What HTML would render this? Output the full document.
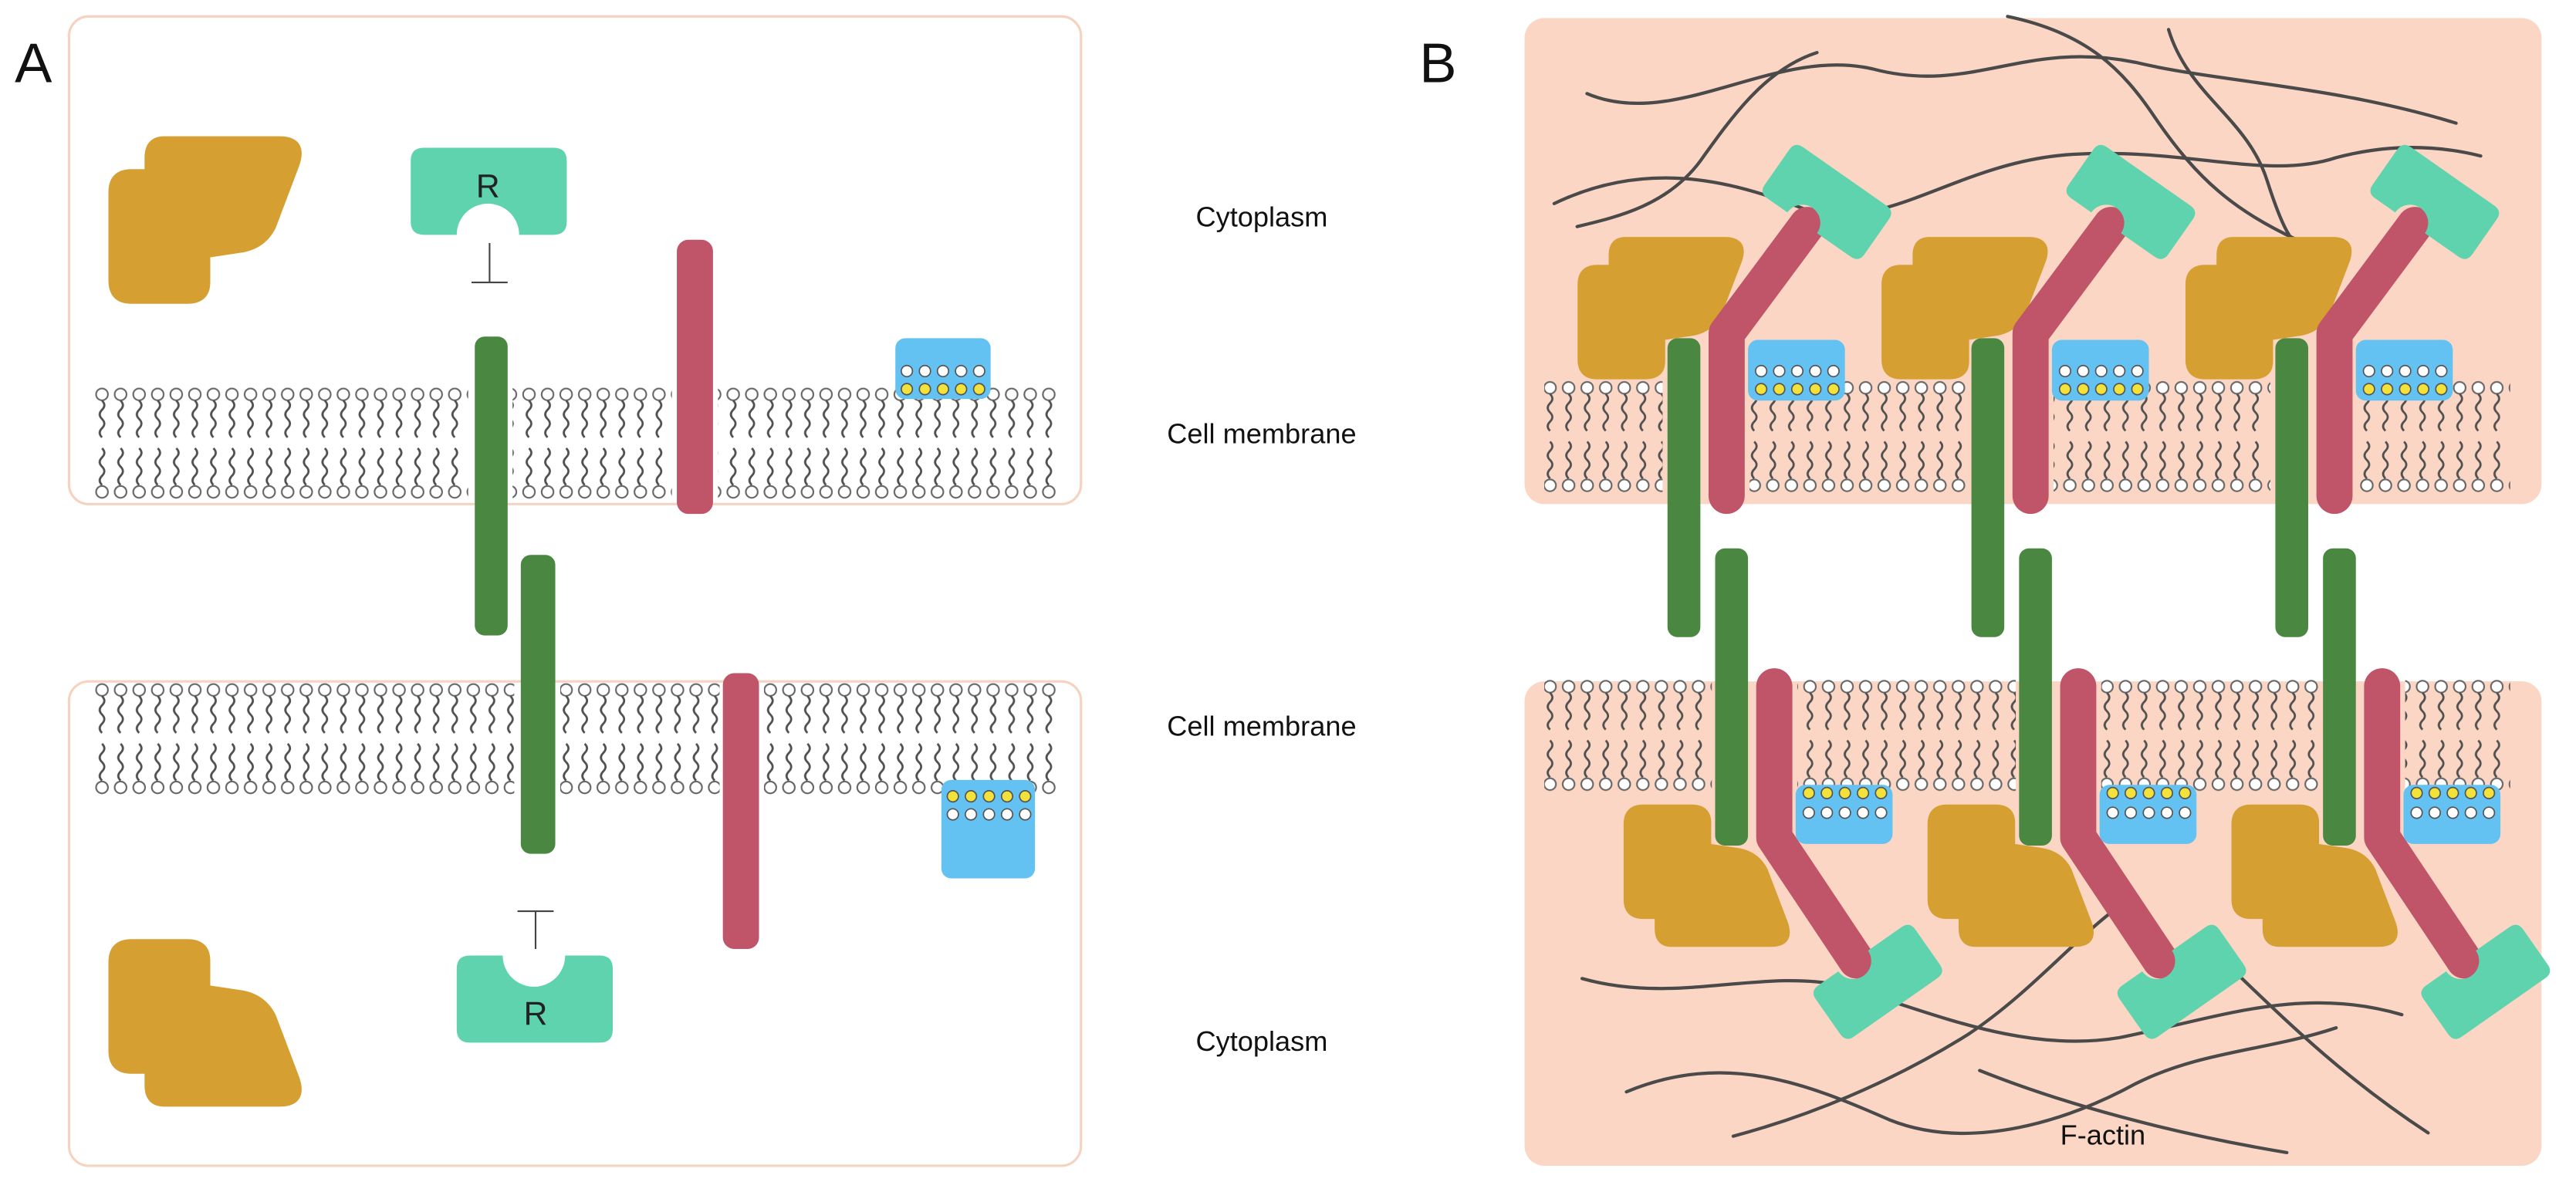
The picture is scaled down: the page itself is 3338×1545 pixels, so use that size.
<!DOCTYPE html>
<html><head><meta charset="utf-8"><style>html,body{margin:0;padding:0;background:#fff}svg{display:block}</style></head>
<body>
<svg width="3338" height="1545" viewBox="0 0 1568 726" preserveAspectRatio="none" xmlns="http://www.w3.org/2000/svg" font-family="Liberation Sans, sans-serif">
<defs>
<path id="tail" d="M0,0 q2.8,2.8 0,5.6 q-2.8,2.8 0,5.6 q2.8,2.8 0,5.6 q-2.8,2.8 0,5.6" fill="none" stroke="#505050" stroke-width="1.3"/>
<pattern id="mem" width="11.3" height="68" patternUnits="userSpaceOnUse">
<circle cx="5.6" cy="4.2" r="3.6" fill="#fff" stroke="#666" stroke-width="1"/>
<circle cx="5.6" cy="63.6" r="3.6" fill="#fff" stroke="#666" stroke-width="1"/>
<use href="#tail" x="5.6" y="8"/>
<use href="#tail" x="5.6" y="37"/>
</pattern>
<g id="row5w"><circle cx="0" r="3.4" fill="#fff" stroke="#555" stroke-width="0.8"/><circle cx="11" r="3.4" fill="#fff" stroke="#555" stroke-width="0.8"/><circle cx="22" r="3.4" fill="#fff" stroke="#555" stroke-width="0.8"/><circle cx="33" r="3.4" fill="#fff" stroke="#555" stroke-width="0.8"/><circle cx="44" r="3.4" fill="#fff" stroke="#555" stroke-width="0.8"/></g>
<g id="row5y"><circle cx="0" r="3.4" fill="#f2e23a" stroke="#555" stroke-width="0.8"/><circle cx="11" r="3.4" fill="#f2e23a" stroke="#555" stroke-width="0.8"/><circle cx="22" r="3.4" fill="#f2e23a" stroke="#555" stroke-width="0.8"/><circle cx="33" r="3.4" fill="#f2e23a" stroke="#555" stroke-width="0.8"/><circle cx="44" r="3.4" fill="#f2e23a" stroke="#555" stroke-width="0.8"/></g>
<path id="gold" d="M100,85 L170,85 Q186,85 180,101 L166,138 Q160,150 146,152 L126,155 L126,172 Q126,183 114,183 L80,183 Q68,183 68,171 L68,117 Q68,105 80,105 L90,105 L90,96 Q90,85 100,85 Z" fill="#d69f31" stroke="#d69f31" stroke-width="4" stroke-linejoin="round"/>
<path id="tealT" d="M-37,-13 Q-37,-19 -31,-19 H31 Q37,-19 37,-13 V13 Q37,19 31,19 H6 A11,11 0 0 0 -16,19 H-31 Q-37,19 -37,13 Z" fill="#5fd3ae"/>
<path id="tealB" d="M-37,13 Q-37,19 -31,19 H31 Q37,19 37,13 V-13 Q37,-19 31,-19 H6 A11,11 0 0 1 -16,-19 H-31 Q-37,-19 -37,-13 Z" fill="#5fd3ae"/>
<g id="unitB">
<use href="#gold" transform="translate(962,146) scale(0.86,0.85) translate(-68,-85)"/>
<polyline points="1051,302 1051,203 1100,137" fill="none" stroke="#c05468" stroke-width="22" stroke-linecap="round" stroke-linejoin="round"/>
<use href="#tealT" transform="translate(1112,123) rotate(35)"/>
<rect x="1015" y="206" width="20" height="182" rx="6" fill="#4a8740"/>
<rect x="1064" y="207" width="59" height="37" rx="6" fill="#64c2f3"/>
<use href="#row5w" transform="translate(1072,226)"/>
<use href="#row5y" transform="translate(1072,237)"/>
<use href="#gold" transform="translate(990,575) scale(0.86,-0.85) translate(-68,-85)"/>
<polyline points="1080,418 1080,510 1130,585" fill="none" stroke="#c05468" stroke-width="22" stroke-linecap="round" stroke-linejoin="round"/>
<use href="#tealB" transform="translate(1143,598) rotate(-35)"/>
<rect x="1044" y="334" width="20" height="181" rx="6" fill="#4a8740"/>
<rect x="1093" y="478" width="59" height="36" rx="6" fill="#64c2f3"/>
<use href="#row5y" transform="translate(1101,483)"/>
<use href="#row5w" transform="translate(1101,495)"/>
</g>
</defs>

<text x="9" y="50" font-size="34" fill="#111">A</text>
<rect x="42" y="10" width="616" height="297" rx="12" fill="#fff" stroke="#f6d3c1" stroke-width="1.5"/>
<rect x="42" y="415" width="616" height="295" rx="12" fill="#fff" stroke="#f6d3c1" stroke-width="1.5"/>

<g transform="translate(0,236)">
<rect x="55" y="0" width="230" height="68" fill="url(#mem)"/>
<rect x="312" y="0" width="97" height="68" fill="url(#mem)"/>
<rect x="437" y="0" width="208" height="68" fill="url(#mem)"/>
</g>
<g transform="translate(0,416)">
<rect x="55" y="0" width="258" height="68" fill="url(#mem)"/>
<rect x="341" y="0" width="97" height="68" fill="url(#mem)"/>
<rect x="465" y="0" width="178" height="68" fill="url(#mem)"/>
</g>

<use href="#gold"/>
<use href="#gold" transform="translate(0,757) scale(1,-1)"/>

<path d="M258,90 H337 Q345,90 345,98 V135 Q345,143 337,143 H316 A19,19 0 0 0 278,143 H258 Q250,143 250,135 V98 Q250,90 258,90Z" fill="#5fd3ae"/>
<text x="297" y="120" font-size="20" text-anchor="middle" fill="#222">R</text>
<line x1="298" y1="148" x2="298" y2="172" stroke="#444" stroke-width="1"/>
<line x1="287" y1="172" x2="309" y2="172" stroke="#444" stroke-width="1"/>

<path d="M286,582 H306 A19,19 0 0 0 344,582 H365 Q373,582 373,590 V627 Q373,635 365,635 H286 Q278,635 278,627 V590 Q278,582 286,582Z" fill="#5fd3ae"/>
<text x="326" y="624" font-size="20" text-anchor="middle" fill="#222">R</text>
<line x1="326" y1="555" x2="326" y2="578" stroke="#444" stroke-width="1"/>
<line x1="315" y1="555" x2="337" y2="555" stroke="#444" stroke-width="1"/>

<rect x="289" y="205" width="20" height="182" rx="6" fill="#4a8740"/>
<rect x="317" y="338" width="21" height="182" rx="6" fill="#4a8740"/>
<rect x="412" y="146" width="22" height="167" rx="7" fill="#c05468"/>
<rect x="440" y="410" width="22" height="168" rx="7" fill="#c05468"/>

<rect x="545" y="206" width="58" height="37" rx="6" fill="#64c2f3"/>
<use href="#row5w" transform="translate(552,226)"/>
<use href="#row5y" transform="translate(552,237)"/>
<rect x="573" y="475" width="57" height="60" rx="6" fill="#64c2f3"/>
<use href="#row5y" transform="translate(580,485)"/>
<use href="#row5w" transform="translate(580,496)"/>

<g font-size="17" fill="#111" text-anchor="middle">
<text x="768" y="138">Cytoplasm</text>
<text x="768" y="270">Cell membrane</text>
<text x="768" y="448">Cell membrane</text>
<text x="768" y="640">Cytoplasm</text>
</g>

<text x="864" y="50" font-size="34" fill="#111">B</text>
<rect x="928" y="11" width="619" height="296" rx="12" fill="#fcd6c4"/>
<rect x="928" y="415" width="619" height="295" rx="12" fill="#fcd6c4"/>

<g transform="translate(0,232)">
<rect x="940" y="0" width="72" height="68" fill="url(#mem)"/>
<rect x="1065" y="0" width="132" height="68" fill="url(#mem)"/>
<rect x="1250" y="0" width="132" height="68" fill="url(#mem)"/>
<rect x="1435" y="0" width="93" height="68" fill="url(#mem)"/>
</g>
<g transform="translate(0,414)">
<rect x="940" y="0" width="102" height="68" fill="url(#mem)"/>
<rect x="1094" y="0" width="133" height="68" fill="url(#mem)"/>
<rect x="1279" y="0" width="133" height="68" fill="url(#mem)"/>
<rect x="1464" y="0" width="64" height="68" fill="url(#mem)"/>
</g>

<g fill="none" stroke="#4a4a4a" stroke-width="2" stroke-linecap="round">
<path d="M966,57 C1020,80 1080,28 1140,42 C1200,58 1232,24 1300,38 C1350,50 1420,52 1495,75"/>
<path d="M1222,10 C1270,20 1292,42 1312,72 C1338,110 1360,128 1398,146"/>
<path d="M946,124 C1000,98 1050,108 1100,128 C1150,142 1192,98 1262,94 C1332,90 1380,110 1422,96 C1460,86 1490,90 1510,95"/>
<path d="M1106,32 C1075,42 1055,70 1035,98 C1015,125 985,132 960,138"/>
<path d="M1320,18 C1332,58 1368,72 1380,110 C1388,135 1394,148 1402,152"/>
<path d="M963,596 C1020,612 1070,590 1120,600 C1172,615 1230,642 1290,632 C1350,620 1400,600 1462,618"/>
<path d="M990,665 C1050,640 1100,660 1150,682 C1200,702 1260,682 1300,660 C1340,640 1380,640 1422,626"/>
<path d="M1055,692 C1100,680 1150,660 1198,630 C1240,602 1268,565 1300,545"/>
<path d="M1350,582 C1382,612 1420,652 1478,690"/>
<path d="M1205,652 C1255,672 1320,690 1392,702"/>
</g>

<use href="#unitB"/>
<use href="#unitB" x="185"/>
<use href="#unitB" x="370"/>

<text x="1280" y="697" font-size="17" text-anchor="middle" fill="#111">F-actin</text>
</svg>
</body></html>
